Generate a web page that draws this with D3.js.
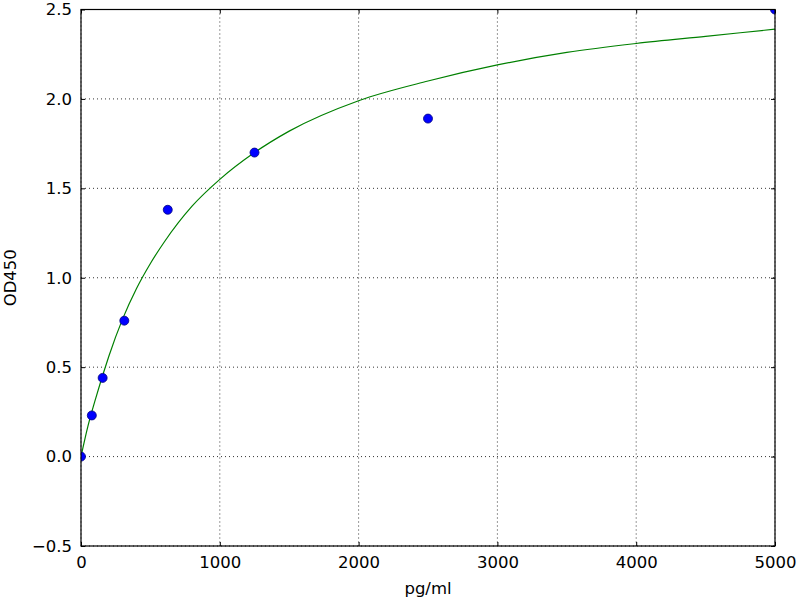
<!DOCTYPE html>
<html>
<head>
<meta charset="utf-8">
<script src="https://cdn.jsdelivr.net/npm/d3@7"></script>
<style>
  body { margin: 0; background: #fff; }
  text { font-family: "DejaVu Sans", sans-serif; }
</style>
</head>
<body>
<div id="chart"></div>
<script>
// ---------------------------------------------------
// DATA — standard curve (OD450 vs concentration)
// ---------------------------------------------------
const concPoints = [0, 78, 156, 312, 625, 1250, 2500, 5000];
const odPoints = [0.0, 0.23, 0.44, 0.76, 1.38, 1.70, 1.89, 2.50];

// fitted curve
const fitConc = [0, 50, 100, 200, 300, 400, 500, 600, 800, 1000, 1250, 1500, 2000, 2500, 3000, 3500, 4000, 4500, 5000];
const fitOd = [0, 0.17, 0.31, 0.56, 0.77, 0.94, 1.08, 1.20, 1.40, 1.55, 1.70, 1.82, 1.99, 2.10, 2.19, 2.26, 2.31, 2.35, 2.39];

const xTicks = [0, 1000, 2000, 3000, 4000, 5000];
const yTicks = [-0.5, 0.0, 0.5, 1.0, 1.5, 2.0, 2.5];

// ---------------------------------------------------
// DIMENSIONS
// ---------------------------------------------------
const width = 800;
const height = 600;
const margin = { top: 9.5, right: 25, bottom: 54, left: 81 };
const innerWidth = width - margin.left - margin.right;
const innerHeight = height - margin.top - margin.bottom;

const svg = d3.select("#chart")
  .append("svg")
  .attr("width", width)
  .attr("height", height);

const g = svg.append("g")
  .attr("transform", `translate(${margin.left},${margin.top})`);

// ---------------------------------------------------
// SCALES
// ---------------------------------------------------
const x = d3.scaleLinear().domain([0, 5000]).range([0, innerWidth]);
const y = d3.scaleLinear().domain([-0.5, 2.5]).range([innerHeight, 0]);

// ---------------------------------------------------
// GRID (dotted, matplotlib classic)
// ---------------------------------------------------
g.append("g").selectAll("line")
  .data(xTicks)
  .join("line")
  .attr("x1", d => x(d)).attr("x2", d => x(d))
  .attr("y1", 0).attr("y2", innerHeight)
  .attr("stroke", "#000")
  .attr("stroke-width", 0.8)
  .attr("stroke-dasharray", "1,3");

g.append("g").selectAll("line")
  .data(yTicks)
  .join("line")
  .attr("x1", 0).attr("x2", innerWidth)
  .attr("y1", d => y(d)).attr("y2", d => y(d))
  .attr("stroke", "#000")
  .attr("stroke-width", 0.8)
  .attr("stroke-dasharray", "1,3");

// ---------------------------------------------------
// AXES — inward ticks on all four sides
// ---------------------------------------------------
const tickLen = 4;
const fontSize = "16.5px";

const styleAxis = sel => {
  sel.select(".domain").remove();
  sel.selectAll(".tick line").attr("stroke", "#000");
  sel.selectAll(".tick text").style("font-size", fontSize).attr("fill", "#000");
};

g.append("g")
  .attr("transform", `translate(0,${innerHeight})`)
  .call(d3.axisBottom(x).tickValues(xTicks).tickFormat(d3.format("d"))
    .tickSizeInner(-tickLen).tickSizeOuter(0).tickPadding(10))
  .call(styleAxis);

g.append("g")
  .call(d3.axisTop(x).tickValues(xTicks).tickFormat("")
    .tickSizeInner(-tickLen).tickSizeOuter(0))
  .call(styleAxis);

g.append("g")
  .call(d3.axisLeft(y).tickValues(yTicks).tickFormat(d3.format(".1f"))
    .tickSizeInner(-tickLen).tickSizeOuter(0).tickPadding(9))
  .call(styleAxis)
  .selectAll(".tick text")
  .text(d => d3.format(".1f")(d).replace("-", "\u2212"));

g.append("g")
  .attr("transform", `translate(${innerWidth},0)`)
  .call(d3.axisRight(y).tickValues(yTicks).tickFormat("")
    .tickSizeInner(-tickLen).tickSizeOuter(0))
  .call(styleAxis);

// ---------------------------------------------------
// CLIP + CURVE + POINTS
// ---------------------------------------------------
svg.append("defs").append("clipPath")
  .attr("id", "plot-clip")
  .append("rect")
  .attr("width", innerWidth)
  .attr("height", innerHeight);

const plot = g.append("g").attr("clip-path", "url(#plot-clip)");

const fitData = fitConc.map((c, i) => ({ c, od: fitOd[i] }));
const line = d3.line()
  .x(d => x(d.c))
  .y(d => y(d.od))
  .curve(d3.curveMonotoneX);

plot.append("path")
  .datum(fitData)
  .attr("fill", "none")
  .attr("stroke", "#008000")
  .attr("stroke-width", 1.2)
  .attr("d", line);

plot.selectAll("circle")
  .data(concPoints.map((c, i) => ({ c, od: odPoints[i] })))
  .join("circle")
  .attr("cx", d => x(d.c))
  .attr("cy", d => y(d.od))
  .attr("r", 4.5)
  .attr("fill", "#0000ff")
  .attr("stroke", "#000080")
  .attr("stroke-width", 0.8);

// frame
g.append("rect")
  .attr("width", innerWidth)
  .attr("height", innerHeight)
  .attr("fill", "none")
  .attr("stroke", "#000")
  .attr("stroke-width", 1.2);

// ---------------------------------------------------
// AXIS LABELS
// ---------------------------------------------------
svg.append("text")
  .attr("x", margin.left + innerWidth / 2)
  .attr("y", 594)
  .attr("text-anchor", "middle")
  .style("font-size", fontSize)
  .text("pg/ml");

svg.append("text")
  .attr("transform", `translate(16,${margin.top + innerHeight / 2}) rotate(-90)`)
  .attr("text-anchor", "middle")
  .style("font-size", fontSize)
  .text("OD450");
</script>
</body>
</html>
